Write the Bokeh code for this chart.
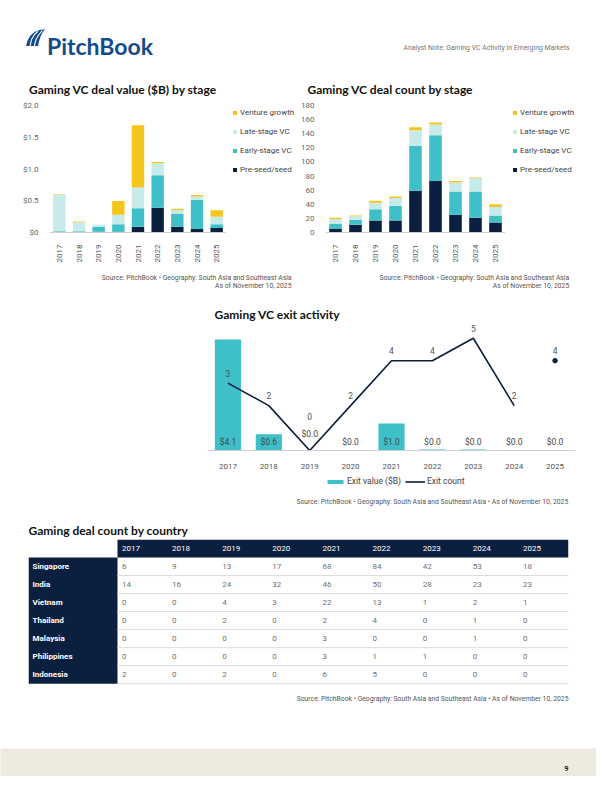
import math
import numpy as np
from bokeh.plotting import figure
from bokeh.models import (FactorRange, Range1d, Legend, LegendItem,
                          ColumnDataSource, FixedTicker)
from bokeh.layouts import column, row
from bokeh.embed import file_html
from bokeh.resources import INLINE
from bokeh.core.properties import value

# ---------------- data ----------------
years = ["2017", "2018", "2019", "2020", "2021", "2022", "2023", "2024", "2025"]
stage_names = ["Pre-seed/seed", "Early-stage VC", "Late-stage VC", "Venture growth"]

value_preseed = [0.005, 0.008, 0.01, 0.01, 0.09, 0.39, 0.09, 0.055, 0.07]
value_early = [0.015, 0.012, 0.075, 0.12, 0.29, 0.51, 0.20, 0.46, 0.06]
value_late = [0.57, 0.14, 0.038, 0.15, 0.33, 0.19, 0.065, 0.05, 0.12]
value_growth = [0.01, 0.015, 0.0, 0.215, 0.98, 0.02, 0.02, 0.025, 0.10]
value_ticks = [0, 0.5, 1.0, 1.5, 2.0]
value_tick_labels = ["$0", "$0.5", "$1.0", "$1.5", "$2.0"]

count_preseed = [5, 11, 17, 17, 59, 73, 25, 21, 14]
count_early = [7, 7, 16, 21, 64, 65, 33, 37, 10]
count_late = [7, 5, 9, 11, 22, 15, 13, 19, 12]
count_growth = [2, 1, 3, 2, 4, 3, 2, 1, 4]
count_ticks = [0, 20, 40, 60, 80, 100, 120, 140, 160, 180]

exit_value = [4.1, 0.6, 0.0, 0.0, 1.0, 0.04, 0.04, 0.0, 0.0]
exit_count = [3, 2, 0, 2, 4, 4, 5, 2, 4]

countries = ["Singapore", "India", "Vietnam", "Thailand", "Malaysia", "Philippines", "Indonesia"]
deals_singapore = [6, 9, 13, 17, 68, 84, 42, 53, 18]
deals_india = [14, 16, 24, 32, 46, 50, 28, 23, 23]
deals_vietnam = [0, 0, 4, 3, 22, 13, 1, 2, 1]
deals_thailand = [0, 0, 2, 0, 2, 4, 0, 1, 0]
deals_malaysia = [0, 0, 0, 0, 3, 0, 0, 1, 0]
deals_philippines = [0, 0, 0, 0, 3, 1, 1, 0, 0]
deals_indonesia = [2, 0, 2, 0, 6, 5, 0, 0, 0]
deal_rows = [deals_singapore, deals_india, deals_vietnam, deals_thailand,
             deals_malaysia, deals_philippines, deals_indonesia]

source_line = "Source: PitchBook \u2022 Geography: South Asia and Southeast Asia"
asof_line = "As of November 10, 2025"
source_full = "Source: PitchBook \u2022 Geography: South Asia and Southeast Asia \u2022 As of November 10, 2025"

# ---------------- styles ----------------
NAVY = "#0b1f3f"
TEAL = "#3fc0c8"
PALE = "#c7ebea"
YELLOW = "#f5c51c"
BLUE = "#154a8c"
GRAY = "#555555"
TITLE_FONT = "Lato"
BODY_FONT = "Roboto"
stage_colors = [NAVY, TEAL, PALE, YELLOW]
NAN = np.array([np.nan])


def make_fig(w, h, left, right, top, bottom, xr, yr, xaxis=True, yaxis=True):
    kw = {}
    if not xaxis:
        kw["x_axis_location"] = None
    if not yaxis:
        kw["y_axis_location"] = None
    p = figure(width=w, height=h, x_range=xr, y_range=yr, output_backend="svg",
               toolbar_location=None, min_border_left=left, min_border_right=right,
               min_border_top=top, min_border_bottom=bottom, **kw)
    p.outline_line_color = None
    p.background_fill_color = "white"
    p.border_fill_color = "white"
    p.grid.visible = False
    return p


def text_fig(y0, y1):
    # a strip of the page whose frame is the whole strip, in page pixels
    return make_fig(596, y1 - y0, 0, 0, 0, 0, Range1d(8, 604), Range1d(y1, y0),
                    xaxis=False, yaxis=False)


def put_text(p, X, Y, text, size, color=GRAY, font=BODY_FONT, style="normal",
             align="left"):
    p.text(x=[X], y=[Y], text=[text], text_font=value(font),
           text_font_size=f"{size}px", text_font_style=style, text_color=color,
           text_align=align, text_baseline="alphabetic")


def style_bar_axes(p, ticks, labels=None):
    p.yaxis.ticker = FixedTicker(ticks=ticks)
    if labels:
        p.yaxis.major_label_overrides = {t: l for t, l in zip(ticks, labels)}
    p.yaxis.axis_line_color = None
    p.yaxis.major_tick_line_color = None
    p.yaxis.minor_tick_line_color = None
    p.yaxis.major_label_standoff = 5
    p.yaxis.major_label_text_font = BODY_FONT
    p.yaxis.major_label_text_font_size = "8px"
    p.yaxis.major_label_text_color = "#666666"
    p.xaxis.axis_line_color = "#d0d0d0"
    p.xaxis.major_tick_line_color = None
    p.xaxis.minor_tick_line_color = None
    p.xaxis.major_label_orientation = math.pi / 2
    p.xaxis.major_label_standoff = 6
    p.xaxis.major_label_text_font = BODY_FONT
    p.xaxis.major_label_text_font_size = "8px"
    p.xaxis.major_label_text_color = "#555555"


def stage_legend_fig(w, lx):
    # legend column beside a stacked-bar chart (same frame top/bottom as the chart)
    lf = make_fig(w, 167, 0, 0, 7, 31, Range1d(0, 1), Range1d(0, 1),
                  xaxis=False, yaxis=False)
    proxies = [lf.vbar(x=NAN, top=NAN, width=0.1, fill_color=c, line_color=None)
               for c in stage_colors]
    items = [LegendItem(label=stage_names[i], renderers=[proxies[i]]) for i in (3, 2, 1, 0)]
    lg = Legend(items=items, location=(lx, 57.3), orientation="vertical",
                glyph_width=5, glyph_height=5, label_standoff=3, spacing=9,
                label_height=10, padding=0, margin=0, border_line_color=None,
                background_fill_alpha=0, label_text_font=BODY_FONT,
                label_text_font_size="8px", label_text_color="#444444")
    lf.add_layout(lg)
    return lf


# ---------------- top strip: header + chart titles ----------------
top = text_fig(8, 106)
top.patch(x=[33.5, 35, 38, 42, 47, 52.5, 50, 48, 46.5, 45.5],
          y=[53.5, 48, 43, 39.5, 37.5, 36.8, 40, 44, 49, 53.5],
          fill_color=BLUE, line_color=None)
top.multi_line(xs=[[37.6, 39, 42, 45.5], [41.8, 43.5, 46.5, 49.8]],
               ys=[[53.6, 47, 42, 38.8], [53.6, 47, 42, 38]],
               line_color="white", line_width=1.1)
put_text(top, 54.5, 53.3, "PitchBook", 23, color=BLUE, font=TITLE_FONT, style="bold")
put_text(top, 577, 55.5, "Analyst Note: Gaming VC Activity in Emerging Markets", 6.9,
         color="#777777", align="right")
put_text(top, 36.5, 97, "Gaming VC deal value ($B) by stage", 12, color="#111111",
         font=TITLE_FONT, style="bold")
put_text(top, 315, 97, "Gaming VC deal count by stage", 12, color="#111111",
         font=TITLE_FONT, style="bold")

# ---------------- chart 1: deal value ----------------
src1 = ColumnDataSource(dict(year=years, pre=value_preseed, early=value_early,
                             late=value_late, growth=value_growth))
c1 = make_fig(226, 167, 49, 0, 7, 31, FactorRange(*years), Range1d(0, 2.0))
c1.vbar_stack(["pre", "early", "late", "growth"], x="year", width=0.63,
              fill_color=stage_colors, line_color=None, source=src1)
style_bar_axes(c1, value_ticks, value_tick_labels)
lg1 = stage_legend_fig(72, 6)

# ---------------- chart 2: deal count ----------------
src2 = ColumnDataSource(dict(year=years, pre=count_preseed, early=count_early,
                             late=count_late, growth=count_growth))
c2 = make_fig(207, 167, 26, 0, 7, 31, FactorRange(*years), Range1d(0, 180))
c2.vbar_stack(["pre", "early", "late", "growth"], x="year", width=0.63,
              fill_color=stage_colors, line_color=None, source=src2)
style_bar_axes(c2, count_ticks)
lg2 = stage_legend_fig(91, 7)

# ---------------- middle strip: sources + exit title ----------------
mid = text_fig(273, 330)
put_text(mid, 299, 285, source_line, 6.8, align="right")
put_text(mid, 299, 293.5, asof_line, 6.8, align="right")
put_text(mid, 576.7, 285, source_line, 6.8, align="right")
put_text(mid, 576.7, 293.5, asof_line, 6.8, align="right")
put_text(mid, 222, 321.5, "Gaming VC exit activity", 12, color="#111111",
         font=TITLE_FONT, style="bold")

# ---------------- exit chart ----------------
ce = make_fig(596, 150, 207, 21, 0, 22, FactorRange(*years), Range1d(0, 4.73),
              yaxis=False)
ce.extra_y_ranges = {"count": Range1d(0, 5.70)}
ce.vbar(x=years, top=exit_value, width=0.64, fill_color=TEAL, line_color=None)
ce.line(years[:-1], exit_count[:-1], y_range_name="count", line_color=NAVY,
        line_width=1.6)
ce.scatter([years[-1]], [exit_count[-1]], y_range_name="count", size=4.5,
           fill_color=NAVY, line_color=NAVY)
bar_lab = ColumnDataSource(dict(
    x=years, y=[0] * len(years), t=[f"${v:.1f}" for v in exit_value],
    off=[-17 if c == 0 else -9 for c in exit_count]))
ce.text(x="x", y="y", text="t", y_offset="off", source=bar_lab, text_align="center",
        text_baseline="middle", text_font=value(BODY_FONT), text_font_size="8.5px",
        text_color="#444444")
cnt_lab = ColumnDataSource(dict(
    x=years, y=exit_count, t=[str(c) for c in exit_count],
    off=[-34 if c == 0 else -10 for c in exit_count]))
ce.text(x="x", y="y", text="t", y_offset="off", source=cnt_lab, y_range_name="count",
        text_align="center", text_baseline="middle", text_font=value(BODY_FONT),
        text_font_size="8.5px", text_color="#555555")
ce.xaxis.axis_line_color = "#d0d0d0"
ce.xaxis.major_tick_line_color = None
ce.xaxis.minor_tick_line_color = None
ce.xaxis.major_label_standoff = 7
ce.xaxis.major_label_text_font = BODY_FONT
ce.xaxis.major_label_text_font_size = "8px"
ce.xaxis.major_label_text_color = "#555555"

# ---------------- strip: exit legend + source, table title ----------------
leg = text_fig(480, 547)
proxy_bar = leg.vbar(x=NAN, top=NAN, width=1, fill_color=TEAL, line_color=None)
proxy_line = leg.line(x=NAN, y=NAN, line_color=NAVY, line_width=1.6)
lg = Legend(items=[LegendItem(label="Exit value ($B)", renderers=[proxy_bar]),
                   LegendItem(label="Exit count", renderers=[proxy_line])],
            location=(325, 52.7), orientation="horizontal", glyph_width=20,
            glyph_height=5, label_standoff=2, spacing=4, label_height=10, padding=0,
            margin=0, border_line_color=None, background_fill_alpha=0,
            label_text_font=BODY_FONT, label_text_font_size="8.5px",
            label_text_color="#444444")
leg.add_layout(lg)
put_text(leg, 575.7, 509.5, source_full, 6.8, align="right")
put_text(leg, 36, 537.5, "Gaming deal count by country", 12, color="#111111",
         font=TITLE_FONT, style="bold")

# ---------------- table ----------------
ncol = len(years)
nrow = len(countries)
name_w = 1.776
tb = make_fig(596, 146, 28, 28, 0, 0, Range1d(-name_w, ncol), Range1d(nrow + 1.1, 0),
              xaxis=False, yaxis=False)
tb.quad(left=[0], right=[ncol], top=[0], bottom=[1], fill_color=NAVY, line_color=None)
tb.quad(left=[-name_w], right=[0], top=[1], bottom=[nrow + 1], fill_color=NAVY,
        line_color=None)
tb.segment(x0=[0] * nrow, x1=[ncol] * nrow, y0=list(range(2, nrow + 2)),
           y1=list(range(2, nrow + 2)), line_color="#dcdcdc", line_width=1)
tb.text(x=list(range(ncol)), y=[0.5] * ncol, text=years, x_offset=4.5,
        text_baseline="middle", text_font=value(BODY_FONT), text_font_size="8px",
        text_color="white")
tb.text(x=[-name_w] * nrow, y=[r + 1.5 for r in range(nrow)], text=countries,
        x_offset=4, text_baseline="middle", text_font=value(BODY_FONT),
        text_font_style="bold", text_font_size="8px", text_color="white")
cx, cy, ct = [], [], []
for r, vals in enumerate(deal_rows):
    for c, v in enumerate(vals):
        cx.append(c)
        cy.append(r + 1.5)
        ct.append(str(v))
tb.text(x=cx, y=cy, text=ct, x_offset=4.5, text_baseline="middle",
        text_font=value(BODY_FONT), text_font_size="8px", text_color="#707070")

# ---------------- table source ----------------
src = text_fig(693, 756)
put_text(src, 576, 706.5, source_full, 6.8, align="right")

# ---------------- footer ----------------
ft = text_fig(756, 784)
ft.background_fill_color = "#efeadf"
ft.border_fill_color = "#efeadf"
put_text(ft, 574, 775.5, "9", 7.5, color="#222222", style="bold", align="center")

page = column(row(top), row(c1, lg1, c2, lg2), row(mid), row(ce), row(leg), row(tb),
              row(src), row(ft))
open("out.html", "w").write(file_html(page, INLINE, title="PitchBook"))
